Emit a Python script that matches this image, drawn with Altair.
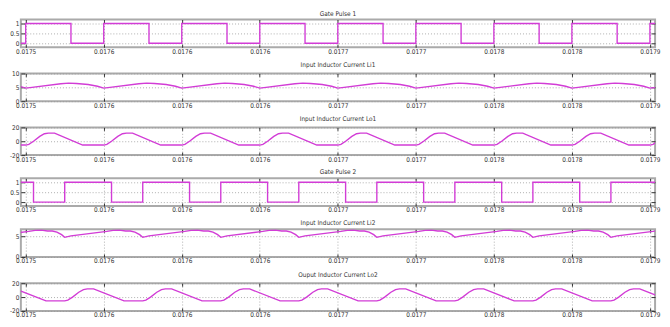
import json
import altair as alt
import pandas as pd

# ---------------- data (time in microseconds after t = 0.0175 s) ----------------
x_tick_us = [0, 50, 100, 150, 200, 250, 300, 350, 400]
x_tick_labels = ["0.0175", "0.0176", "0.0176", "0.0176", "0.0177",
                 "0.0177", "0.0178", "0.0178", "0.0179"]
x_domain_us = [-3.1, 403.3]

# Gate Pulse 1
g1_us = [-10, 0, 29, 50, 79, 100, 129, 150, 179, 200, 229, 250, 279,
         300, 329, 350, 379, 400, 410]
g1_val = [0, 1, 0, 1, 0, 1, 0, 1, 0, 1, 0, 1, 0, 1, 0, 1, 0, 1, 1]

# Input Inductor Current Li1
li1_us = [-4,
          0, 4, 22.5, 27.5, 32.5, 40, 46,
          50, 54, 72.5, 77.5, 82.5, 90, 96,
          100, 104, 122.5, 127.5, 132.5, 140, 146,
          150, 154, 172.5, 177.5, 182.5, 190, 196,
          200, 204, 222.5, 227.5, 232.5, 240, 246,
          250, 254, 272.5, 277.5, 282.5, 290, 296,
          300, 304, 322.5, 327.5, 332.5, 340, 346,
          350, 354, 372.5, 377.5, 382.5, 390, 396,
          400, 404]
li1_val = [5.4,
           4.7, 5.0, 6.3, 6.5, 6.4, 6.0, 5.4,
           4.7, 5.0, 6.3, 6.5, 6.4, 6.0, 5.4,
           4.7, 5.0, 6.3, 6.5, 6.4, 6.0, 5.4,
           4.7, 5.0, 6.3, 6.5, 6.4, 6.0, 5.4,
           4.7, 5.0, 6.3, 6.5, 6.4, 6.0, 5.4,
           4.7, 5.0, 6.3, 6.5, 6.4, 6.0, 5.4,
           4.7, 5.0, 6.3, 6.5, 6.4, 6.0, 5.4,
           4.7, 5.0, 6.3, 6.5, 6.4, 6.0, 5.4,
           4.7, 5.0]

# Input Inductor Current Lo1
lo1_us = [-13.5,
          0, 2, 5, 9, 12, 14.5, 18.5, 36.5,
          50, 52, 55, 59, 62, 64.5, 68.5, 86.5,
          100, 102, 105, 109, 112, 114.5, 118.5, 136.5,
          150, 152, 155, 159, 162, 164.5, 168.5, 186.5,
          200, 202, 205, 209, 212, 214.5, 218.5, 236.5,
          250, 252, 255, 259, 262, 264.5, 268.5, 286.5,
          300, 302, 305, 309, 312, 314.5, 318.5, 336.5,
          350, 352, 355, 359, 362, 364.5, 368.5, 386.5,
          400, 402, 405]
lo1_val = [-5.5,
           -5.5, -4.5, 0, 7, 10.8, 11.8, 11.8, -5.5,
           -5.5, -4.5, 0, 7, 10.8, 11.8, 11.8, -5.5,
           -5.5, -4.5, 0, 7, 10.8, 11.8, 11.8, -5.5,
           -5.5, -4.5, 0, 7, 10.8, 11.8, 11.8, -5.5,
           -5.5, -4.5, 0, 7, 10.8, 11.8, 11.8, -5.5,
           -5.5, -4.5, 0, 7, 10.8, 11.8, 11.8, -5.5,
           -5.5, -4.5, 0, 7, 10.8, 11.8, 11.8, -5.5,
           -5.5, -4.5, 0, 7, 10.8, 11.8, 11.8, -5.5,
           -5.5, -4.5, 0]

# Gate Pulse 2
g2_us = [-10, 5, 25, 55, 75, 105, 125, 155, 175, 205, 225, 255, 275,
         305, 325, 355, 375, 405, 410]
g2_val = [1, 0, 1, 0, 1, 0, 1, 0, 1, 0, 1, 0, 1, 0, 1, 0, 1, 0, 0]

# Input Inductor Current Li2
li2_us = [-25, -21, 2, 6, 10, 14, 17, 20, 23,
          25, 29, 52, 56, 60, 64, 67, 70, 73,
          75, 79, 102, 106, 110, 114, 117, 120, 123,
          125, 129, 152, 156, 160, 164, 167, 170, 173,
          175, 179, 202, 206, 210, 214, 217, 220, 223,
          225, 229, 252, 256, 260, 264, 267, 270, 273,
          275, 279, 302, 306, 310, 314, 317, 320, 323,
          325, 329, 352, 356, 360, 364, 367, 370, 373,
          375, 379, 402, 406]
li2_val = [4.75, 5.1, 6.2, 6.45, 6.5, 6.3, 6.3, 6.0, 5.4,
           4.75, 5.1, 6.2, 6.45, 6.5, 6.3, 6.3, 6.0, 5.4,
           4.75, 5.1, 6.2, 6.45, 6.5, 6.3, 6.3, 6.0, 5.4,
           4.75, 5.1, 6.2, 6.45, 6.5, 6.3, 6.3, 6.0, 5.4,
           4.75, 5.1, 6.2, 6.45, 6.5, 6.3, 6.3, 6.0, 5.4,
           4.75, 5.1, 6.2, 6.45, 6.5, 6.3, 6.3, 6.0, 5.4,
           4.75, 5.1, 6.2, 6.45, 6.5, 6.3, 6.3, 6.0, 5.4,
           4.75, 5.1, 6.2, 6.45, 6.5, 6.3, 6.3, 6.0, 5.4,
           4.75, 5.1, 6.2, 6.45]

# Output Inductor Current Lo2
lo2_us = [-25, -23, -20, -16, -13, -10.5, -6.5, 13,
          25, 27, 30, 34, 37, 39.5, 43.5, 63,
          75, 77, 80, 84, 87, 89.5, 93.5, 113,
          125, 127, 130, 134, 137, 139.5, 143.5, 163,
          175, 177, 180, 184, 187, 189.5, 193.5, 213,
          225, 227, 230, 234, 237, 239.5, 243.5, 263,
          275, 277, 280, 284, 287, 289.5, 293.5, 313,
          325, 327, 330, 334, 337, 339.5, 343.5, 363,
          375, 377, 380, 384, 387, 389.5, 393.5, 413]
lo2_val = [-5.5, -4.5, 0, 7, 10.8, 11.8, 11.8, -5.5,
           -5.5, -4.5, 0, 7, 10.8, 11.8, 11.8, -5.5,
           -5.5, -4.5, 0, 7, 10.8, 11.8, 11.8, -5.5,
           -5.5, -4.5, 0, 7, 10.8, 11.8, 11.8, -5.5,
           -5.5, -4.5, 0, 7, 10.8, 11.8, 11.8, -5.5,
           -5.5, -4.5, 0, 7, 10.8, 11.8, 11.8, -5.5,
           -5.5, -4.5, 0, 7, 10.8, 11.8, 11.8, -5.5,
           -5.5, -4.5, 0, 7, 10.8, 11.8, 11.8, -5.5,
           -5.5, -4.5, 0, 7, 10.8, 11.8, 11.8, -5.5]

titles = ["Gate Pulse 1", "Input Inductor Current Li1", "Input Inductor Current Lo1",
          "Gate Pulse 2", "Input Inductor Current Li2", "Ouput Inductor Current Lo2"]
y_domains = [[-0.2, 1.2], [0, 10], [-20, 20], [-0.2, 1.2], [0, 6.7], [-20, 20]]
y_ticks = [[0, 0.5, 1], [0, 5, 10], [-20, 0, 20], [0, 0.5, 1], [0, 5], [-20, 0, 20]]
y_tick_labels = [["0", "0.5", "1"], ["0", "5", "10"], ["-20", "0", "20"],
                 ["0", "0.5", "1"], ["0", "5"], ["-20", "0", "20"]]
series = [(g1_us, g1_val, True), (li1_us, li1_val, False), (lo1_us, lo1_val, False),
          (g2_us, g2_val, True), (li2_us, li2_val, False), (lo2_us, lo2_val, False)]

# ---------------- styling ----------------
FONT = "Liberation Sans Narrow, DejaVu Sans Condensed, Liberation Sans, Arial"
MAG = "#d23cd6"
W, H = 641, 28
TXT = "#333333"

x_label_expr = f"{json.dumps(x_tick_labels)}[indexof({json.dumps(x_tick_us)}, datum.value)]"
x_scale = alt.Scale(domain=x_domain_us, nice=False, zero=False)


def panel(i):
    t_us, vals, step = series[i]
    df = pd.DataFrame({"t": t_us, "v": vals})
    y_scale = alt.Scale(domain=y_domains[i], nice=False, zero=False)
    y_label_expr = (f"{json.dumps(y_tick_labels[i])}"
                    f"[indexof({json.dumps(y_ticks[i])}, datum.value)]")
    x_bottom = alt.Axis(values=x_tick_us, labelExpr=x_label_expr, offset=-3,
                        tickSize=3, tickColor="#333", tickWidth=1, domain=False,
                        grid=True, gridDash=[1, 2], gridColor="#999", gridWidth=0.8,
                        labelPadding=1, labelOverlap=False, title=None)
    x_top = alt.Axis(orient="top", values=x_tick_us, labels=False, offset=-3,
                     tickSize=3, tickColor="#333", tickWidth=1, domain=False,
                     grid=False, title=None)
    y_left = alt.Axis(values=y_ticks[i], labelExpr=y_label_expr, offset=-4,
                      tickSize=4, tickColor="#333", tickWidth=1, domain=False,
                      grid=True, gridDash=[1, 2], gridColor="#999", gridWidth=0.8,
                      labelPadding=2, labelOverlap=False, title=None)
    y_right = alt.Axis(orient="right", values=y_ticks[i], labels=False, offset=-4,
                       tickSize=4, tickColor="#333", tickWidth=1, domain=False,
                       grid=False, title=None)
    line = alt.Chart(df).mark_line(
        color=MAG, strokeWidth=1.4, clip=True,
        interpolate="step-after" if step else "linear"
    ).encode(
        x=alt.X("t:Q", scale=x_scale, axis=x_bottom),
        y=alt.Y("v:Q", scale=y_scale, axis=y_left),
    )
    ghost = alt.Chart(df).mark_line(opacity=0, clip=True).encode(
        x=alt.X("t:Q", scale=x_scale, axis=x_top),
        y=alt.Y("v:Q", scale=y_scale, axis=y_right),
    )
    return alt.layer(line, ghost).resolve_axis(x="independent", y="independent").properties(
        width=W, height=H,
        title=alt.TitleParams(text=titles[i], fontSize=6.5, font=FONT, fontWeight="normal",
                              color=TXT, offset=2),
    )


chart = alt.vconcat(*[panel(i) for i in range(6)], spacing=4.5).properties(
    padding={"left": 0, "top": 0, "right": 0, "bottom": 0}
).configure_view(
    stroke="#aaaaaa", strokeWidth=2
).configure_axis(
    labelFont=FONT, labelFontSize=6.5, labelColor=TXT
)

chart.save("out.html", embed_options={"renderer": "svg", "actions": False})
